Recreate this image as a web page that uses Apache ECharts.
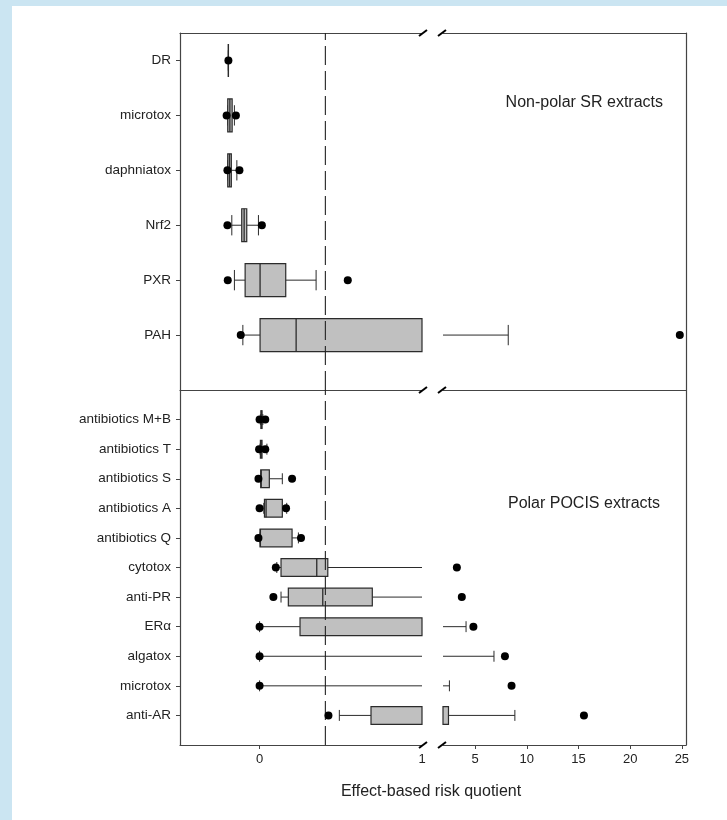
<!DOCTYPE html>
<html>
<head>
<meta charset="utf-8">
<script src="https://cdn.jsdelivr.net/npm/echarts@6/dist/echarts.min.js"></script>
<style>
  html, body { margin: 0; padding: 0; background: #cbe5f2; }
  #bg { position: absolute; left: 12px; top: 6px; right: 0; bottom: 0; background: #fff; }
  #chart { position: absolute; left: 0; top: 0; width: 727px; height: 820px; }
</style>
</head>
<body>
<div id="bg"></div>
<div id="chart"></div>
<script>
// ---- Data ----
// Non-polar SR extracts, listed top to bottom
const topCats  = ['DR', 'microtox', 'daphniatox', 'Nrf2', 'PXR', 'PAH'];
const topMin   = [-0.192, -0.196, -0.196, -0.171, -0.155, -0.103];
const topQ1    = [-0.192, -0.196, -0.196, -0.110, -0.089,  0.003];
const topMed   = [-0.192, -0.183, -0.185, -0.095,  0.003,  0.225];
const topQ3    = [-0.192, -0.169, -0.174, -0.079,  0.161,  1.5];
const topMax   = [-0.192, -0.155, -0.140, -0.007,  0.348,  8.21];
const topOut   = [[-0.192], [-0.203, -0.146], [-0.198, -0.124], [-0.198, 0.014], [-0.196, 0.543], [-0.116, 24.8]];

// Polar POCIS extracts, listed top to bottom
const botCats  = ['antibiotics M+B', 'antibiotics T', 'antibiotics S', 'antibiotics A', 'antibiotics Q',
                  'cytotox', 'anti-PR', 'ERα', 'algatox', 'microtox', 'anti-AR'];
const botMin   = [0.005, 0.003, 0.007, 0.026, 0.003, 0.106, 0.132, 0.0,   0.0, 0.0, 0.491];
const botQ1    = [0.008, 0.005, 0.007, 0.030, 0.003, 0.132, 0.177, 0.249, 1.2, 1.2, 0.686];
const botMed   = [0.012, 0.010, 0.010, 0.040, 0.005, 0.352, 0.389, 1.3,   1.4, 1.4, 1.4];
const botQ3    = [0.015, 0.015, 0.060, 0.140, 0.200, 0.420, 0.694, 1.6,   1.7, 1.7, 2.43];
const botMax   = [0.020, 0.045, 0.140, 0.167, 0.239, 1.5,   1.5,   4.13,  6.83, 2.52, 8.85];
const botOut   = [[0.0, 0.035], [-0.003, 0.035], [-0.007, 0.2], [0.0, 0.163], [-0.007, 0.255],
                  [0.1, 3.24], [0.085, 3.72], [0.0, 4.84], [0.0, 7.89], [0.0, 8.53], [0.424, 15.53]];

const threshold = 0.405;
const leftRange  = [-0.49, 1];
const rightRange = [1.9, 25.4];
const leftLabels  = [0, 1];
const rightLabels = [5, 10, 15, 20, 25];

// ---- Helpers ----
const FONT = 'Liberation Sans, Arial, sans-serif';
const INK = '#2b2b2b';

function boxData(cats, mn, q1, md, q3, mx) {
  const n = cats.length;
  return cats.map((c, i) => [n - i, mn[i], q1[i], md[i], q3[i], mx[i]]);
}
function outData(cats, outs, range) {
  const n = cats.length, res = [];
  outs.forEach((arr, i) => arr.forEach(v => {
    if (v >= range[0] && v <= range[1]) res.push([v, n - i]);
  }));
  return res;
}
function boxRenderer(xmin, xmax) {
  return function (params, api) {
    const y = api.value(0);
    const mn = api.value(1), q1 = api.value(2), md = api.value(3), q3 = api.value(4), mx = api.value(5);
    const cl = v => Math.min(xmax, Math.max(xmin, v));
    const inR = v => v >= xmin && v <= xmax;
    const px = v => api.coord([cl(v), y])[0];
    const cy = api.coord([cl(md), y])[1];
    const band = api.size([0, 1])[1];
    const bh = band * 0.6, ch = band * 0.37;
    const kids = [];
    const line = (x1, y1, x2, y2) => ({ type: 'line', shape: { x1, y1, x2, y2 }, style: { stroke: INK, lineWidth: 1 } });
    const a = px(mn), b = px(q1), c = px(q3), d = px(mx);
    if (b > a) kids.push(line(a, cy, b, cy));
    if (d > c) kids.push(line(c, cy, d, cy));
    if (inR(mn)) kids.push(line(a, cy - ch / 2, a, cy + ch / 2));
    if (inR(mx)) kids.push(line(d, cy - ch / 2, d, cy + ch / 2));
    const drawBox = (c > b) || (inR(q1) && inR(q3));
    if (drawBox) {
      kids.push({ type: 'rect', shape: { x: b, y: cy - bh / 2, width: c - b, height: bh },
                  style: { fill: '#c0c0c0', stroke: INK, lineWidth: 1.2 } });
      if (inR(md)) kids.push({ type: 'line', shape: { x1: px(md), y1: cy - bh / 2, x2: px(md), y2: cy + bh / 2 },
                               style: { stroke: INK, lineWidth: 1.3 } });
    }
    return { type: 'group', children: kids };
  };
}

const axisLineStyle = { show: true, onZero: false, lineStyle: { color: '#444', width: 1.2 } };
const noTick = { show: false };
const noLabel = { show: false };
const nTop = topCats.length, nBot = botCats.length;
const topTicks = topCats.map((c, i) => nTop - i);
const botTicks = botCats.map((c, i) => nBot - i);
const LABEL_SIZE = 13.5;

const grids = [
  { left: 180, top: 33, width: 242, height: 357 },
  { left: 443, top: 33, width: 243, height: 357 },
  { left: 180, top: 390, width: 242, height: 355 },
  { left: 443, top: 390, width: 243, height: 355 }
];

const xAxes = [
  { gridIndex: 0, type: 'value', min: leftRange[0], max: leftRange[1], position: 'bottom', axisLine: axisLineStyle, axisTick: noTick, axisLabel: noLabel, splitLine: { show: false } },
  { gridIndex: 1, type: 'value', min: rightRange[0], max: rightRange[1], position: 'bottom', axisLine: axisLineStyle, axisTick: noTick, axisLabel: noLabel, splitLine: { show: false } },
  { gridIndex: 2, type: 'value', min: leftRange[0], max: leftRange[1], position: 'bottom', axisLine: axisLineStyle,
    axisTick: { show: true, length: 4, lineStyle: { color: '#444' }, customValues: [0] },
    axisLabel: { show: true, customValues: leftLabels, fontFamily: FONT, fontSize: 13, color: '#222', margin: 8 },
    splitLine: { show: false } },
  { gridIndex: 3, type: 'value', min: rightRange[0], max: rightRange[1], position: 'bottom', axisLine: axisLineStyle,
    axisTick: { show: true, length: 4, lineStyle: { color: '#444' }, customValues: rightLabels },
    axisLabel: { show: true, customValues: rightLabels, fontFamily: FONT, fontSize: 13, color: '#222', margin: 8 },
    splitLine: { show: false } },
  { gridIndex: 0, type: 'value', min: leftRange[0], max: leftRange[1], position: 'top', axisLine: axisLineStyle, axisTick: noTick, axisLabel: noLabel, splitLine: { show: false } },
  { gridIndex: 1, type: 'value', min: rightRange[0], max: rightRange[1], position: 'top', axisLine: axisLineStyle, axisTick: noTick, axisLabel: noLabel, splitLine: { show: false } }
];

const yAxes = [
  { gridIndex: 0, type: 'value', min: 0, max: nTop + 0.5, position: 'left', axisLine: axisLineStyle,
    axisTick: { show: true, length: 4, lineStyle: { color: '#444' }, customValues: topTicks },
    axisLabel: { show: true, customValues: topTicks, formatter: v => topCats[nTop - v] || '', fontFamily: FONT, fontSize: LABEL_SIZE, color: '#222', margin: 9 },
    splitLine: { show: false } },
  { gridIndex: 1, type: 'value', min: 0, max: nTop + 0.5, position: 'right', axisLine: axisLineStyle, axisTick: noTick, axisLabel: noLabel, splitLine: { show: false } },
  { gridIndex: 2, type: 'value', min: 0, max: nBot + 1, position: 'left', axisLine: axisLineStyle,
    axisTick: { show: true, length: 4, lineStyle: { color: '#444' }, customValues: botTicks },
    axisLabel: { show: true, customValues: botTicks, formatter: v => botCats[nBot - v] || '', fontFamily: FONT, fontSize: LABEL_SIZE, color: '#222', margin: 9 },
    splitLine: { show: false } },
  { gridIndex: 3, type: 'value', min: 0, max: nBot + 1, position: 'right', axisLine: axisLineStyle, axisTick: noTick, axisLabel: noLabel, splitLine: { show: false } }
];

const topBoxes = boxData(topCats, topMin, topQ1, topMed, topQ3, topMax);
const botBoxes = boxData(botCats, botMin, botQ1, botMed, botQ3, botMax);

function boxSeries(data, xi, yi, range) {
  return { type: 'custom', xAxisIndex: xi, yAxisIndex: yi, data: data, clip: false, z: 2,
           encode: { x: [1, 2, 3, 4, 5], y: 0 }, renderItem: boxRenderer(range[0], range[1]) };
}
function dotSeries(data, xi, yi) {
  return { type: 'scatter', xAxisIndex: xi, yAxisIndex: yi, data: data, symbol: 'circle', symbolSize: 8,
           itemStyle: { color: '#000', opacity: 1 }, z: 5, silent: true };
}
function thresholdSeries(xi, yi, ymax) {
  return { type: 'line', xAxisIndex: xi, yAxisIndex: yi, data: [[threshold, 0], [threshold, ymax]], symbol: 'none',
           lineStyle: { color: '#222', width: 1.1, type: [19, 6] }, z: 4, silent: true };
}

const chart = echarts.init(document.getElementById('chart'), null, { renderer: 'canvas', width: 727, height: 820 });
chart.setOption({
  animation: false,
  backgroundColor: 'transparent',
  grid: grids,
  xAxis: xAxes,
  yAxis: yAxes,
  series: [
    boxSeries(topBoxes, 0, 0, leftRange),
    boxSeries(topBoxes, 1, 1, rightRange),
    boxSeries(botBoxes, 2, 2, leftRange),
    boxSeries(botBoxes, 3, 3, rightRange),
    thresholdSeries(0, 0, nTop + 0.5),
    thresholdSeries(2, 2, nBot + 1),
    dotSeries(outData(topCats, topOut, leftRange), 0, 0),
    dotSeries(outData(topCats, topOut, rightRange), 1, 1),
    dotSeries(outData(botCats, botOut, leftRange), 2, 2),
    dotSeries(outData(botCats, botOut, rightRange), 3, 3)
  ]
});

// Axis-break marks and panel texts, positioned from the axes
const xBreakL = chart.convertToPixel({ xAxisIndex: 0 }, leftRange[1]);
const xBreakR = chart.convertToPixel({ xAxisIndex: 1 }, rightRange[0]);
const yTop = chart.convertToPixel({ yAxisIndex: 0 }, nTop + 0.5);
const yMid = chart.convertToPixel({ yAxisIndex: 0 }, 0);
const yBot = chart.convertToPixel({ yAxisIndex: 2 }, 0);
const xFrameL = chart.convertToPixel({ xAxisIndex: 0 }, leftRange[0]);
const xFrameR = chart.convertToPixel({ xAxisIndex: 1 }, rightRange[1]);
const marks = [];
[yTop, yMid, yBot].forEach(yy => {
  [xBreakL + 1, xBreakR - 1].forEach(xx => {
    marks.push({ type: 'line', shape: { x1: xx - 4, y1: yy + 3, x2: xx + 4, y2: yy - 3 },
                 style: { stroke: '#000', lineWidth: 2 }, z: 10 });
  });
});
marks.push({ type: 'text', x: xFrameR - 23, y: yTop + 70, style: { text: 'Non-polar SR extracts', fontFamily: FONT, fontSize: 16, fill: '#222', align: 'right', verticalAlign: 'middle' }, z: 10 });
marks.push({ type: 'text', x: xFrameR - 26, y: yMid + 114, style: { text: 'Polar POCIS extracts', fontFamily: FONT, fontSize: 16, fill: '#222', align: 'right', verticalAlign: 'middle' }, z: 10 });
marks.push({ type: 'text', x: (xFrameL + xFrameR) / 2 - 2, y: yBot + 47, style: { text: 'Effect-based risk quotient', fontFamily: FONT, fontSize: 16, fill: '#222', align: 'center', verticalAlign: 'middle' }, z: 10 });
chart.setOption({ graphic: marks });
</script>
</body>
</html>
